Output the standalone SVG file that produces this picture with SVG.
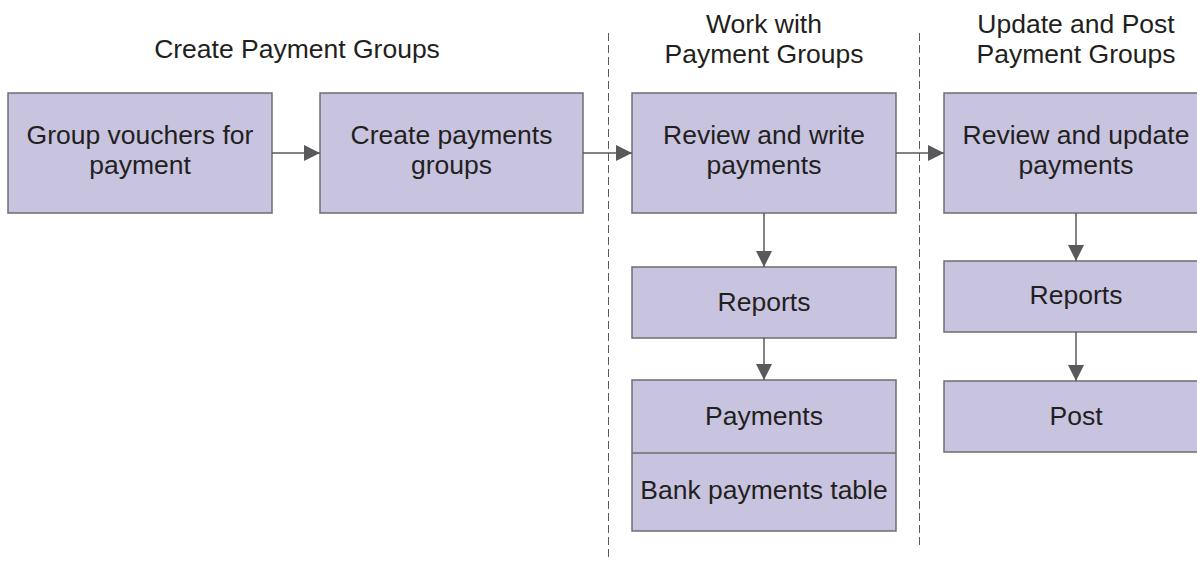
<svg xmlns="http://www.w3.org/2000/svg" width="1197" height="561" viewBox="0 0 1197 561">
<style>
.box{fill:#c8c4e0;stroke:#6d6e71;stroke-width:1.5}
.t{font-family:"Liberation Sans",Arial,sans-serif;font-size:26.5px;fill:#231f20;text-anchor:middle}
.c{stroke:#58595b;stroke-width:1.5;fill:none}
.d{stroke:#58595b;stroke-width:1;stroke-dasharray:8 4;fill:none}
</style>
<defs>
<marker id="ah" markerWidth="16" markerHeight="16" viewBox="0 0 16 16" refX="16" refY="8" orient="auto" markerUnits="userSpaceOnUse">
<path d="M0,0 L16,8 L0,16 Z" fill="#58595b"/>
</marker>
</defs>
<rect width="1197" height="561" fill="#fff"/>
<g id="titles">
<text class="t" x="297" y="57.5">Create Payment Groups</text>
<text class="t" x="764" y="33">Work with</text>
<text class="t" x="764" y="62.5">Payment Groups</text>
<text class="t" x="1076" y="33">Update and Post</text>
<text class="t" x="1076" y="62.5">Payment Groups</text>
</g>
<g id="dividers">
<line class="d" x1="608.5" y1="33" x2="608.5" y2="561"/>
<line class="d" x1="919.5" y1="33" x2="919.5" y2="549"/>
</g>
<g id="n1"><rect class="box" x="8" y="93" width="264" height="120"/>
<text class="t" x="140" y="144">Group vouchers for</text><text class="t" x="140" y="173.5">payment</text></g>
<g id="n2"><rect class="box" x="320" y="93" width="263" height="120"/>
<text class="t" x="451.5" y="144">Create payments</text><text class="t" x="451.5" y="173.5">groups</text></g>
<g id="n3"><rect class="box" x="632" y="93" width="264" height="120"/>
<text class="t" x="764" y="144">Review and write</text><text class="t" x="764" y="173.5">payments</text></g>
<g id="n4"><rect class="box" x="632" y="267" width="264" height="71"/>
<text class="t" x="764" y="311">Reports</text></g>
<g id="n5"><rect class="box" x="632" y="380" width="264" height="151"/>
<line x1="632" y1="453" x2="896" y2="453" stroke="#6d6e71" stroke-width="1.5"/>
<text class="t" x="764" y="425">Payments</text>
<text class="t" x="764" y="499">Bank payments table</text></g>
<g id="n6"><rect class="box" x="944" y="93" width="264" height="120"/>
<text class="t" x="1076" y="144">Review and update</text><text class="t" x="1076" y="173.5">payments</text></g>
<g id="n7"><rect class="box" x="944" y="261" width="264" height="71"/>
<text class="t" x="1076" y="304">Reports</text></g>
<g id="n8"><rect class="box" x="944" y="381" width="264" height="71"/>
<text class="t" x="1076" y="425">Post</text></g>
<g id="connectors">
<line class="c" x1="272" y1="153" x2="320" y2="153" marker-end="url(#ah)"/>
<line class="c" x1="583" y1="153" x2="632" y2="153" marker-end="url(#ah)"/>
<line class="c" x1="896" y1="153" x2="944" y2="153" marker-end="url(#ah)"/>
<line class="c" x1="764" y1="213" x2="764" y2="267" marker-end="url(#ah)"/>
<line class="c" x1="764" y1="338" x2="764" y2="380" marker-end="url(#ah)"/>
<line class="c" x1="1076" y1="213" x2="1076" y2="261" marker-end="url(#ah)"/>
<line class="c" x1="1076" y1="332" x2="1076" y2="381" marker-end="url(#ah)"/>
</g>
</svg>
